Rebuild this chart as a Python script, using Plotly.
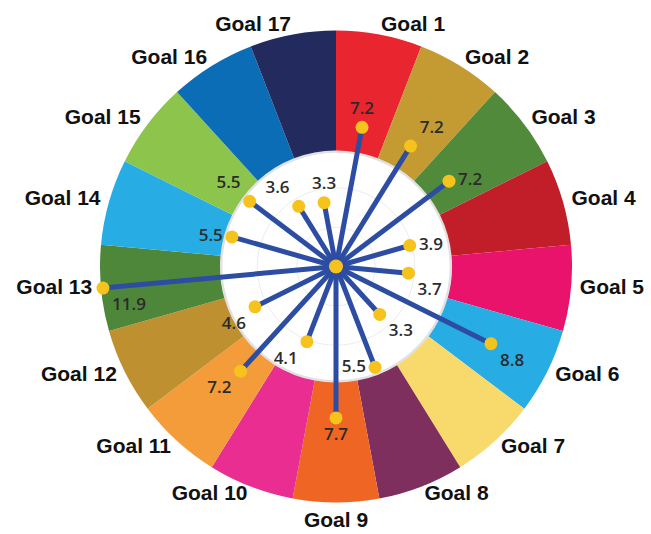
import plotly.graph_objects as go

# Goals and their scores
goals = [f"Goal {i}" for i in range(1, 18)]
scores = [7.2, 7.2, 7.2, 3.9, 3.7, 8.8, 3.3, 5.5, 7.7, 4.1, 7.2, 4.6, 11.9, 5.5, 5.5, 3.6, 3.3]
goal_colors = [
    "#E92530", "#C49A32", "#528A3B", "#C21E2A", "#E9136C", "#27ADE3",
    "#F8DA6C", "#7F2F5E", "#EF6524", "#E92D91", "#F59C3A", "#BF9030",
    "#4F873A", "#27ADE3", "#8DC54C", "#0B6DB5", "#222A5E",
]
score_label_pos = [
    "top center", "top right", "middle right", "middle right", "bottom right",
    "bottom right", "bottom right", "middle left", "bottom center", "bottom left",
    "bottom left", "bottom left", "bottom right", "middle left", "top left",
    "top left", "top center",
]

n = len(goals)
step = 360 / n
mids = [step * (i + 0.5) for i in range(n)]

R_RING = 12.0     # outer edge of the ring
R_HOLE = 5.9      # inner edge of the ring
R_LABEL = 12.45   # anchor radius of the goal names
R_AXIS = 13.0     # radial axis extent, leaves room for the names
PX_PER_UNIT = 236 / R_RING
CX, CY = 336, 534 - 266.5   # centre of the chart in pixels (from bottom)
half = R_AXIS * PX_PER_UNIT

fig = go.Figure()

# coloured ring of goal segments
fig.add_trace(go.Barpolar(
    r=[R_RING - R_HOLE] * n, theta=mids, width=[step] * n, base=R_HOLE,
    marker=dict(color=goal_colors, line=dict(width=0)),
    hoverinfo="skip", showlegend=False,
))

# soft shadow along the inner edge of the ring
fig.add_trace(go.Barpolar(
    r=[0.12] * n, theta=mids, width=[step] * n, base=R_HOLE - 0.12,
    marker=dict(color="rgba(90,90,90,0.18)", line=dict(width=0)),
    hoverinfo="skip", showlegend=False,
))

# lollipop stems from the centre
stem_r, stem_t = [], []
for m, v in zip(mids, scores):
    stem_r += [0, v, None]
    stem_t += [m, m, None]
fig.add_trace(go.Scatterpolar(
    r=stem_r, theta=stem_t, mode="lines",
    line=dict(color="#2D4DA3", width=5),
    hoverinfo="skip", showlegend=False,
))

# lollipop heads with their values
fig.add_trace(go.Scatterpolar(
    r=scores, theta=mids, mode="markers+text",
    marker=dict(color="#F6C21C", size=13),
    text=[f"{v:.1f}" for v in scores],
    textposition=score_label_pos,
    textfont=dict(family="Open Sans", size=17, color="#2b2b2b", weight=600),
    showlegend=False, cliponaxis=False,
))

# centre hub
fig.add_trace(go.Scatterpolar(
    r=[0], theta=[0], mode="markers",
    marker=dict(color="#F6C21C", size=14),
    hoverinfo="skip", showlegend=False,
))

# goal names around the ring
name_pos = []
for m in mids:
    if abs(m - 180) < 1:
        name_pos.append("bottom center")
    elif m < 180:
        name_pos.append("middle right")
    else:
        name_pos.append("middle left")
fig.add_trace(go.Scatterpolar(
    r=[R_LABEL] * n, theta=mids, mode="text",
    text=goals, textposition=name_pos,
    textfont=dict(family="Liberation Sans", size=21, color="#111111", weight="bold"),
    showlegend=False, cliponaxis=False,
))

fig.update_layout(
    width=651, height=534,
    margin=dict(l=0, r=0, t=0, b=0),
    paper_bgcolor="white",
    polar=dict(
        domain=dict(x=[(CX - half) / 651, (CX + half) / 651],
                    y=[(CY - half) / 534, (CY + half) / 534]),
        bgcolor="white",
        radialaxis=dict(
            range=[0, R_AXIS], tickvals=[2, 4], showticklabels=False,
            ticks="", showline=False, gridcolor="#ececec", gridwidth=1,
            layer="below traces",
        ),
        angularaxis=dict(
            direction="clockwise", rotation=90, showticklabels=False,
            ticks="", showline=False, showgrid=False,
        ),
    ),
)

fig.write_html("out.html")
